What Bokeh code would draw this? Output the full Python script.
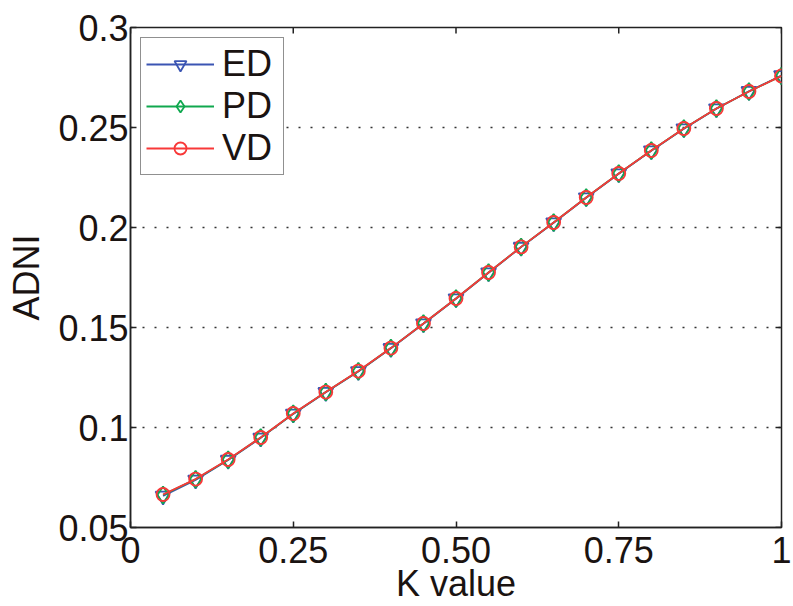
import math
from bokeh.plotting import figure
from bokeh.models import Range1d, FixedTicker, Legend, LegendItem
from bokeh.embed import file_html
from bokeh.resources import INLINE

# ---- data ----
k_values = [0.05, 0.10, 0.15, 0.20, 0.25, 0.30, 0.35, 0.40, 0.45, 0.50,
            0.55, 0.60, 0.65, 0.70, 0.75, 0.80, 0.85, 0.90, 0.95, 1.00]
ed_values = [0.0658, 0.0738, 0.0837, 0.0948, 0.1068, 0.1176, 0.1280, 0.1396, 0.1519, 0.1644,
             0.1774, 0.1902, 0.2024, 0.2149, 0.2269, 0.2384, 0.2494, 0.2594, 0.2681, 0.2760]
pd_values = [0.0663, 0.0741, 0.0839, 0.0950, 0.1069, 0.1177, 0.1281, 0.1397, 0.1520, 0.1645,
             0.1775, 0.1903, 0.2025, 0.2150, 0.2270, 0.2385, 0.2495, 0.2595, 0.2680, 0.2758]
vd_values = [0.0665, 0.0742, 0.0840, 0.0950, 0.1070, 0.1177, 0.1282, 0.1397, 0.1520, 0.1645,
             0.1775, 0.1903, 0.2025, 0.2150, 0.2270, 0.2385, 0.2495, 0.2595, 0.2680, 0.2758]
series_names = ["ED", "PD", "VD"]
x_ticks = [0, 0.25, 0.5, 0.75, 1]
x_tick_labels = ["0", "0.25", "0.50", "0.75", "1"]
y_ticks = [0.05, 0.1, 0.15, 0.2, 0.25, 0.3]
y_tick_labels = ["0.05", "0.1", "0.15", "0.2", "0.25", "0.3"]
x_label = "K value"
y_label = "ADNI"
x_min, x_max = 0, 1
y_min, y_max = 0.05, 0.3

FONT = "Liberation Sans"
FS = "36px"
TXT = "#1a1311"
AX = "#222222"

p = figure(width=793, height=606, output_backend="svg", toolbar_location=None,
           x_range=Range1d(x_min, x_max), y_range=Range1d(y_min, y_max),
           min_border_left=130, min_border_right=12, min_border_top=27, min_border_bottom=79)
p.background_fill_color = "white"
p.border_fill_color = "white"
p.outline_line_color = AX
p.outline_line_width = 1.5

# axes
p.xaxis.ticker = FixedTicker(ticks=x_ticks)
p.xaxis.major_label_overrides = dict(zip(x_ticks, x_tick_labels))
p.yaxis.ticker = FixedTicker(ticks=y_ticks)
p.yaxis.major_label_overrides = dict(zip(y_ticks, y_tick_labels))
p.xaxis.axis_label = x_label
p.yaxis.axis_label = y_label
for ax in (p.xaxis, p.yaxis):
    ax.axis_label_text_font = FONT
    ax.axis_label_text_font_size = FS
    ax.axis_label_text_font_style = "normal"
    ax.axis_label_text_color = TXT
    ax.major_label_text_font = FONT
    ax.major_label_text_font_size = FS
    ax.major_label_text_color = TXT
    ax.major_tick_in = 6
    ax.major_tick_out = 0
    ax.minor_tick_in = 0
    ax.minor_tick_out = 0
    ax.axis_line_color = AX
    ax.axis_line_width = 1.5
    ax.major_tick_line_color = AX
    ax.major_tick_line_width = 1.5
p.xaxis.major_label_standoff = 9
p.xaxis.axis_label_standoff = -3
p.yaxis.major_label_standoff = 2
p.yaxis.axis_label_standoff = 8

# top & right inward ticks (MATLAB box style), drawn as dash markers clipped by the frame
p.scatter(x_ticks, [y_max] * len(x_ticks), marker="dash", angle=math.pi / 2,
          size=12, line_color=AX, line_width=1.5)
p.scatter([x_max] * len(y_ticks), y_ticks, marker="dash",
          size=12, line_color=AX, line_width=1.5)

# grid
p.xgrid.visible = False
p.ygrid.ticker = FixedTicker(ticks=y_ticks)
p.ygrid.grid_line_color = "#333333"
p.ygrid.grid_line_dash = "2 10"
p.ygrid.grid_line_width = 1.5

colors = ["#3b55b3", "#10a84f", "#f83838"]
markers = ["inverted_triangle", "diamond", "circle"]
marker_sizes = [15, 17, 13]
data = [ed_values, pd_values, vd_values]
items = []
for name, col, mk, ms, ys in zip(series_names, colors, markers, marker_sizes, data):
    l = p.line(k_values, ys, line_color=col, line_width=1.8)
    m = p.scatter(k_values, ys, marker=mk, size=ms, line_color=col, line_width=1.8,
                  fill_alpha=0)
    items.append(LegendItem(label=name, renderers=[l, m]))

legend = Legend(items=items, location="top_left")
legend.margin = 10
legend.padding = 5
legend.spacing = 0
legend.glyph_width = 68
legend.glyph_height = 30
legend.label_height = 30
legend.label_width = 56
legend.label_standoff = 8
legend.label_text_font = FONT
legend.label_text_font_size = FS
legend.label_text_color = TXT
legend.border_line_color = AX
legend.border_line_width = 1.5
legend.background_fill_color = "white"
legend.background_fill_alpha = 1
p.add_layout(legend, "center")

open("out.html", "w").write(file_html(p, INLINE))
